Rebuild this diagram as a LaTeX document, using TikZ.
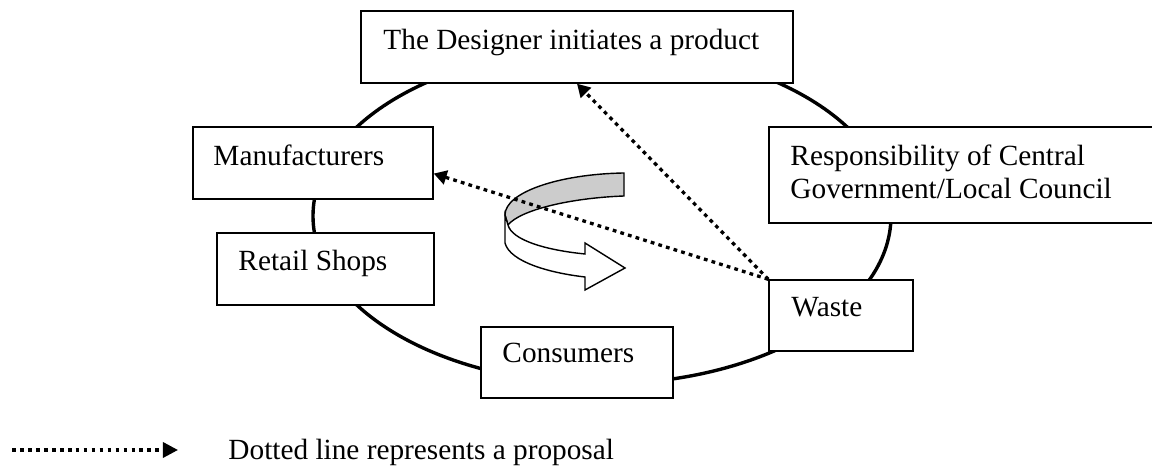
\documentclass[tikz,border=0pt]{standalone}
\usepackage{fontspec}
\setmainfont{Liberation Serif}
\usetikzlibrary{arrows.meta}

\tikzset{
  box/.style={draw, fill=white, line width=0.6pt, inner sep=0pt},
  txt/.style={anchor=base west, inner sep=0pt, font=\fontsize{12.5}{14.1}\selectfont},
  ring/.style={line width=1.45pt},
  proposal/.style={line width=1.4pt, dash pattern=on 1.6pt off 1.8pt,
    -{Triangle[length=5.5pt,width=6pt]}},
}

\begin{document}
\begin{tikzpicture}[x=0.015cm,y=-0.015cm]
\useasboundingbox (0,0) rectangle (1152,468);
% the cycle
\draw[ring] (602,216) ellipse [x radius=289, y radius=168];

% boxes on the cycle
\node[box, minimum width=6.48cm, minimum height=1.08cm] (designer) at (577,47) {};
\node[box, minimum width=3.6cm, minimum height=1.08cm] (manufacturers) at (313,163) {};
\node[box, minimum width=3.255cm, minimum height=1.08cm] (retail) at (325.5,269) {};
\node[box, minimum width=2.88cm, minimum height=1.065cm] (consumers) at (577,362.5) {};
\node[box, minimum width=2.16cm, minimum height=1.065cm] (waste) at (841,315.5) {};
\node[box, minimum width=5.805cm, minimum height=1.44cm] (council) at (962.5,175) {};

\node[txt] (designer-t) at (383,50) {The Designer initiates a product};
\node[txt] (manufacturers-t) at (213,166) {Manufacturers};
\node[txt] (retail-t) at (238,271) {Retail Shops};
\node[txt] (consumers-t) at (502,363) {Consumers};
\node[txt] (waste-t) at (791,317) {Waste};
\node[txt, align=left] (council-t) at (790,199) {Responsibility of Central\\Government/Local Council};

% turning arrow
\draw[fill=gray!40, line width=0.6pt] (624,173) .. controls (560,174) and (505,192) .. (505,215)
  -- (508,225) .. controls (520,210) and (570,198) .. (624,196) -- cycle;
\draw[fill=white, line width=0.6pt] (505,215) -- (505,243) .. controls (510,262) and (550,273) .. (585,277)
  -- (585,290) -- (625,268) -- (585,243) -- (585,254)
  .. controls (545,250) and (512,240) .. (508,225) -- cycle;

% proposals
\draw[proposal] (waste.north west) -- (designer.south);
\draw[proposal] (waste.north west) -- (manufacturers.-5);

% key
\coordinate (key-a) at (12,450);
\coordinate (key-b) at (178,450);
\draw[proposal, -{Triangle[length=6.5pt,width=6.5pt]}] (key-a) -- (key-b);
\node[txt] (key-t) at (228,460) {Dotted line represents a proposal};
\end{tikzpicture}
\end{document}
